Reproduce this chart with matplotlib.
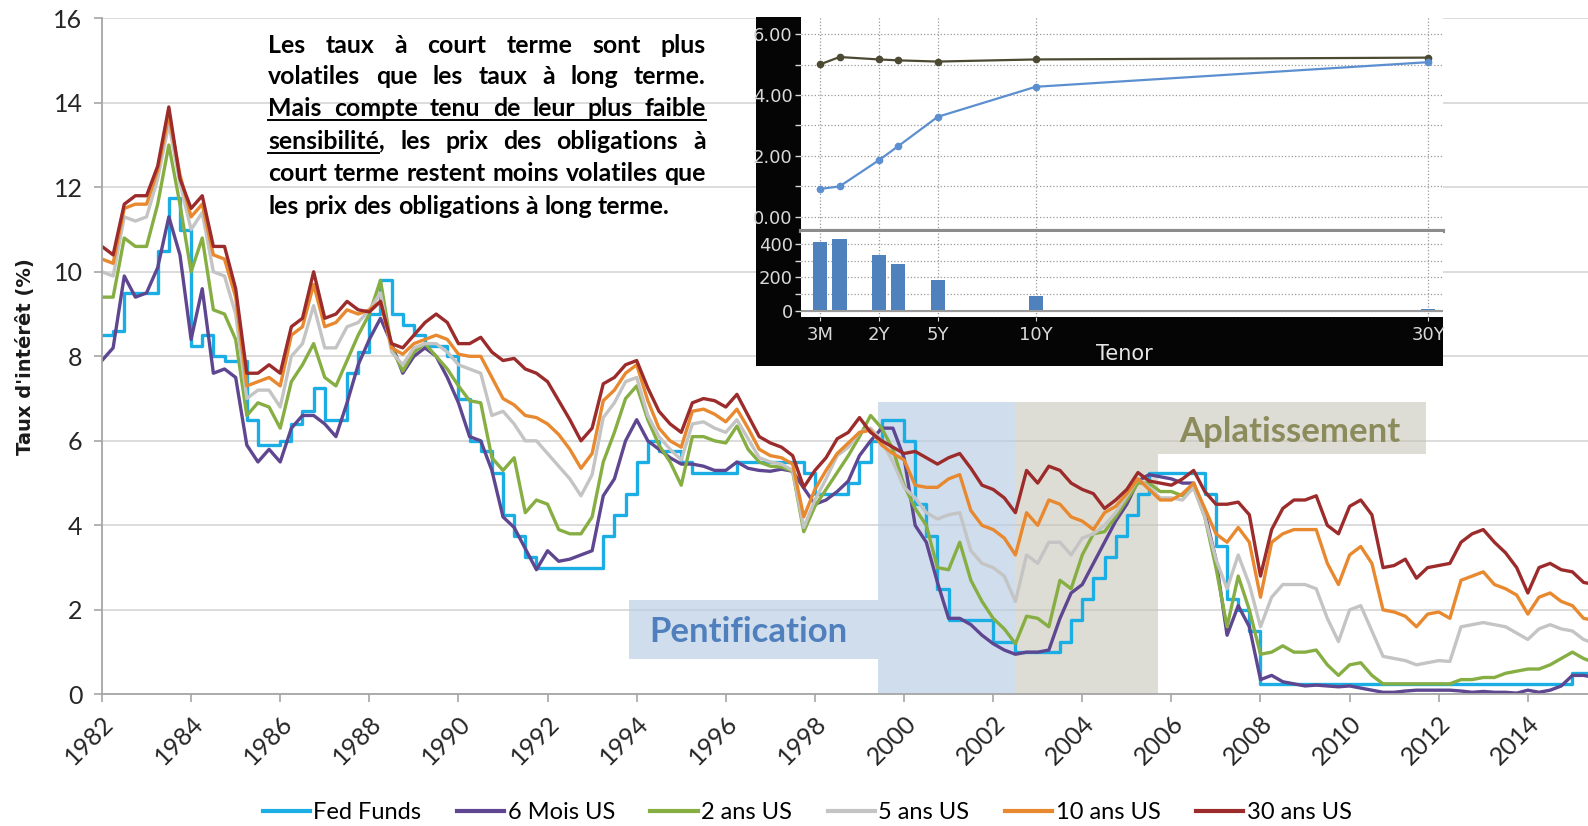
import numpy as np
import matplotlib
matplotlib.use("Agg")
import matplotlib.pyplot as plt
from matplotlib.patches import Rectangle
from matplotlib.lines import Line2D

# ---- data: quarterly readings (time axis as drawn) ----
dates = np.arange(1982.0, 2015.51, 0.25)

fed_funds = [
    8.5, 8.6, 9.5, 9.5,  9.5, 10.5, 11.75, 11.0,  8.25, 8.5, 8.0, 7.9,
    7.9, 6.5, 5.9, 5.9,  6.0, 6.4, 6.7, 7.25,  6.5, 6.5, 7.6, 8.1,
    9.0, 9.8, 9.0, 8.75,  8.5, 8.25, 8.25, 8.0,  7.0, 6.0, 5.75, 5.25,
    4.25, 3.75, 3.25, 3.0,  3.0, 3.0, 3.0, 3.0,  3.0, 3.75, 4.25, 4.75,
    5.5, 6.0, 5.75, 5.75,  5.5, 5.25, 5.25, 5.25,  5.25, 5.5, 5.5, 5.5,
    5.5, 5.5, 5.5, 5.25,  4.75, 4.75, 4.75, 5.0,  5.5, 6.0, 6.5, 6.5,
    6.0, 4.5, 3.75, 2.5,  1.75, 1.75, 1.75, 1.75,  1.25, 1.25, 1.0, 1.0,
    1.0, 1.0, 1.25, 1.75,  2.25, 2.75, 3.25, 3.75,  4.25, 4.75, 5.25, 5.25,
    5.25, 5.25, 5.25, 4.75,  3.5, 2.25, 2.0, 1.5,  0.25, 0.25, 0.25, 0.25,
    0.25, 0.25, 0.25, 0.25,  0.25, 0.25, 0.25, 0.25,  0.25, 0.25, 0.25, 0.25,
    0.25, 0.25, 0.25, 0.25,  0.25, 0.25, 0.25, 0.25,  0.25, 0.25, 0.25, 0.25,
    0.5, 0.5, 0.5,
]
us_6m = [
    7.9, 8.2, 9.9, 9.4,  9.5, 10.1, 11.3, 10.4,  8.4, 9.6, 7.6, 7.7,
    7.5, 5.9, 5.5, 5.8,  5.5, 6.3, 6.6, 6.6,  6.4, 6.1, 6.9, 7.8,
    8.4, 8.9, 8.3, 7.6,  8.0, 8.2, 8.0, 7.5,  6.9, 6.1, 6.0, 5.3,
    4.2, 3.95, 3.45, 2.95,  3.4, 3.15, 3.2, 3.3,  3.4, 4.7, 5.1, 6.0,
    6.5, 6.0, 5.8, 5.6,  5.45, 5.45, 5.4, 5.3,  5.3, 5.5, 5.35, 5.3,
    5.28, 5.33, 5.28, 4.88,  4.5, 4.6, 4.8, 5.05,  5.65, 6.0, 6.3, 6.3,
    5.6, 4.0, 3.6, 2.65,  1.8, 1.8, 1.65, 1.4,  1.2, 1.05, 0.95, 1.0,
    1.0, 1.05, 1.8, 2.4,  2.6, 3.1, 3.6, 4.1,  4.5, 5.05, 5.2, 5.15,
    5.1, 5.0, 5.0, 4.3,  3.2, 1.4, 2.1, 1.6,  0.35, 0.45, 0.3, 0.25,
    0.2, 0.22, 0.2, 0.18,  0.2, 0.15, 0.1, 0.05,  0.05, 0.08, 0.1, 0.1,
    0.1, 0.1, 0.08, 0.05,  0.07, 0.05, 0.05, 0.03,  0.1, 0.05, 0.1, 0.2,
    0.45, 0.45, 0.4,
]
us_2y = [
    9.4, 9.4, 10.8, 10.6,  10.6, 11.6, 13.0, 11.6,  10.0, 10.8, 9.1, 9.0,
    8.4, 6.6, 6.9, 6.8,  6.3, 7.4, 7.8, 8.3,  7.5, 7.3, 7.9, 8.5,
    9.0, 9.8, 8.2, 7.65,  8.1, 8.3, 8.0, 7.7,  7.3, 6.95, 6.9, 5.6,
    5.3, 5.6, 4.3, 4.6,  4.5, 3.9, 3.8, 3.8,  4.2, 5.5, 6.2, 7.0,
    7.3, 6.5, 5.9, 5.5,  4.95, 6.1, 6.1, 6.0,  5.95, 6.35, 5.8, 5.5,
    5.4, 5.38, 5.28, 3.85,  4.45, 4.85, 5.25, 5.65,  6.1, 6.6, 6.3, 5.8,
    4.95, 4.4, 4.0, 3.0,  2.95, 3.6, 2.7, 2.2,  1.8, 1.55, 1.2, 1.85,
    1.8, 1.6, 2.7, 2.5,  3.3, 3.8, 3.85, 4.2,  4.6, 5.0, 5.0, 4.8,
    4.8, 4.7, 4.9, 4.2,  3.0, 1.6, 2.8, 2.0,  0.95, 1.0, 1.15, 1.0,
    1.0, 1.05, 0.7, 0.45,  0.7, 0.75, 0.45, 0.25,  0.25, 0.25, 0.25, 0.25,
    0.25, 0.25, 0.35, 0.35,  0.4, 0.4, 0.5, 0.55,  0.6, 0.6, 0.7, 0.85,
    1.0, 0.85, 0.75,
]
us_5y = [
    10.0, 9.9, 11.3, 11.2,  11.3, 12.2, 13.5, 12.1,  11.0, 11.4, 10.0, 9.9,
    9.0, 7.0, 7.2, 7.2,  6.8, 8.0, 8.3, 9.2,  8.2, 8.2, 8.7, 8.8,
    9.1, 9.5, 8.1, 7.8,  8.2, 8.3, 8.3, 8.1,  7.8, 7.7, 7.6, 6.6,
    6.7, 6.4, 6.0, 6.0,  5.7, 5.4, 5.1, 4.7,  5.2, 6.55, 6.9, 7.4,
    7.5, 6.6, 6.1, 5.8,  5.55, 6.4, 6.45, 6.3,  6.2, 6.5, 6.05, 5.6,
    5.5, 5.45, 5.3, 3.95,  4.6, 5.1, 5.65, 5.85,  6.2, 6.3, 6.0, 5.5,
    4.9, 4.65, 4.3, 4.15,  4.25, 4.3, 3.4, 3.1,  3.0, 2.8, 2.2, 3.3,
    3.1, 3.6, 3.6, 3.3,  3.7, 3.8, 4.0, 4.3,  4.7, 5.1, 4.9, 4.65,
    4.65, 4.6, 4.9, 4.2,  3.2, 2.5, 3.3, 2.6,  1.6, 2.3, 2.6, 2.6,
    2.6, 2.5, 1.8, 1.25,  2.0, 2.1, 1.5, 0.9,  0.85, 0.8, 0.7, 0.75,
    0.8, 0.78, 1.6, 1.65,  1.7, 1.65, 1.6, 1.45,  1.3, 1.55, 1.65, 1.55,
    1.5, 1.3, 1.2,
]
us_10y = [
    10.3, 10.2, 11.5, 11.6,  11.6, 12.4, 13.7, 12.3,  11.3, 11.6, 10.4, 10.3,
    9.4, 7.3, 7.4, 7.5,  7.3, 8.5, 8.7, 9.7,  8.7, 8.8, 9.1, 9.0,
    9.1, 9.3, 8.2, 8.05,  8.3, 8.4, 8.5, 8.4,  8.05, 8.0, 8.0, 7.5,
    7.0, 6.85, 6.6, 6.55,  6.4, 6.15, 5.8, 5.35,  5.7, 6.95, 7.2, 7.6,
    7.8, 6.95, 6.3, 6.0,  5.85, 6.7, 6.75, 6.63,  6.45, 6.75, 6.3, 5.8,
    5.65, 5.6, 5.45, 4.2,  4.85, 5.3, 5.7, 5.95,  6.2, 6.25, 5.9, 5.7,
    5.55, 4.95, 4.9, 4.9,  5.1, 5.2, 4.35, 4.0,  3.9, 3.7, 3.3, 4.3,
    4.0, 4.6, 4.5, 4.2,  4.1, 3.9, 4.3, 4.45,  4.75, 5.1, 4.85, 4.6,
    4.6, 4.75, 5.0, 4.4,  3.8, 3.6, 3.95, 3.6,  2.3, 3.6, 3.8, 3.9,
    3.9, 3.9, 3.1, 2.6,  3.3, 3.5, 3.1, 2.0,  1.95, 1.85, 1.6, 1.9,
    1.95, 1.8, 2.7, 2.8,  2.9, 2.6, 2.5, 2.35,  1.9, 2.3, 2.4, 2.2,
    2.1, 1.8, 1.75,
]
us_30y = [
    10.6, 10.4, 11.6, 11.8,  11.8, 12.5, 13.9, 12.2,  11.5, 11.8, 10.6, 10.6,
    9.6, 7.6, 7.6, 7.8,  7.6, 8.7, 8.9, 10.0,  8.9, 9.0, 9.3, 9.1,
    9.05, 9.3, 8.3, 8.2,  8.5, 8.8, 9.0, 8.8,  8.3, 8.3, 8.45, 8.1,
    7.9, 7.95, 7.7, 7.6,  7.4, 6.95, 6.5, 6.0,  6.3, 7.35, 7.5, 7.8,
    7.9, 7.25, 6.7, 6.4,  6.2, 6.9, 7.0, 6.95,  6.8, 7.1, 6.6, 6.1,
    5.95, 5.85, 5.65, 4.9,  5.3, 5.6, 6.05, 6.2,  6.55, 6.2, 6.0, 5.85,
    5.7, 5.75, 5.6, 5.45,  5.6, 5.7, 5.35, 4.95,  4.85, 4.65, 4.3, 5.3,
    5.0, 5.4, 5.3, 5.0,  4.85, 4.75, 4.4, 4.6,  4.85, 5.25, 5.05, 5.0,
    4.95, 5.1, 5.3, 4.8,  4.5, 4.5, 4.55, 4.25,  2.8, 3.9, 4.4, 4.6,
    4.6, 4.7, 4.0, 3.8,  4.45, 4.6, 4.25, 3.0,  3.05, 3.2, 2.75, 3.0,
    3.05, 3.1, 3.6, 3.8,  3.9, 3.6, 3.35, 3.0,  2.4, 3.0, 3.1, 2.95,
    2.9, 2.65, 2.6,
]

series = [fed_funds, us_6m, us_2y, us_5y, us_10y, us_30y]
series_names = ["Fed Funds", "6 Mois US", "2 ans US", "5 ans US", "10 ans US", "30 ans US"]
series_colors = ["#1aaee5", "#5e4690", "#86ae43", "#c4c4c4", "#e8892f", "#9c2b2b"]

year_ticks = list(range(1982, 2015, 2))

# inset: yield curve before / after and spread in bp
tenor_years = [0.25, 0.5, 2, 3, 5, 10, 30]
tenor_tick_years = [0.25, 2, 5, 10, 30]
tenor_tick_labels = ["3M", "2Y", "5Y", "10Y", "30Y"]
curve_flat = [5.01, 5.25, 5.17, 5.14, 5.10, 5.17, 5.23]
curve_steep = [0.91, 0.99, 1.85, 2.32, 3.28, 4.27, 5.08]
spread_bp = [414, 428, 335, 281, 186, 87, 10]

paragraph = [
    "Les taux à court terme sont plus",
    "volatiles que les taux à long terme.",
    "Mais compte tenu de leur plus faible",
    "sensibilité, les prix des obligations à",
    "court terme restent moins volatiles que",
    "les prix des obligations à long terme.",
]

# ---- layout helpers (reference measured on a 1568x816 copy) ----
W_REF, H_REF = 1568.0, 816.0
def fx(x):
    return x / W_REF
def fy(y):
    return 1 - y / H_REF

FONT = ["Lato", "DejaVu Sans"]
NARROW = ["Liberation Sans Narrow", "DejaVu Sans"]

fig = plt.figure(figsize=(15.88, 8.26), dpi=100)
ax = fig.add_axes([fx(100.7), fy(686), 1 - fx(100.7), fy(18) - fy(686)])

for vals, col in zip(series, series_colors):
    if col == series_colors[0]:
        ax.plot(dates, vals, color=col, lw=2.4, drawstyle="steps-post", zorder=2)
    else:
        ax.plot(dates, vals, color=col, lw=2.4, zorder=2)

# shaded regimes
ax.add_patch(Rectangle((1999.42, 0), 2002.49 - 1999.42, 6.92,
                       facecolor="#b8cce4", alpha=0.65, lw=0, zorder=1))
ax.add_patch(Rectangle((1993.83, 0.84), 1999.42 - 1993.83, 2.23 - 0.84,
                       facecolor="#b8cce4", alpha=0.65, lw=0, zorder=1))
ax.add_patch(Rectangle((2002.49, 0), 2005.69 - 2002.49, 6.92,
                       facecolor="#c4c1b4", alpha=0.55, lw=0, zorder=1))
ax.add_patch(Rectangle((2005.69, 5.70), 2011.71 - 2005.69, 6.92 - 5.70,
                       facecolor="#c4c1b4", alpha=0.55, lw=0, zorder=1))
ax.text(1996.5, 1.47, "Pentification", color="#4f7fbc", fontsize=25,
        fontweight="bold", family=FONT, ha="center", va="center", zorder=3)
ax.text(2008.65, 6.2, "Aplatissement", color="#8c8b5c", fontsize=25,
        fontweight="bold", family=FONT, ha="center", va="center", zorder=3)

ax.set_xlim(1982, 2015.35)
ax.set_ylim(0, 16)
ax.set_yticks(range(0, 17, 2))
ax.set_xticks(year_ticks)
ax.set_xticklabels([str(y) for y in year_ticks], rotation=45, ha="right",
                   va="top", rotation_mode="anchor")
ax.tick_params(axis="both", labelsize=18, colors="#a6a6a6", labelcolor="#262626",
               length=6, width=1.2)
ax.tick_params(axis="x", pad=6)
ax.tick_params(axis="y", pad=8)
for lab in ax.get_xticklabels() + ax.get_yticklabels():
    lab.set_family(FONT)
ax.yaxis.grid(True, color="#d9d9d9", lw=1.3)
ax.set_axisbelow(True)
for s in ["top", "right"]:
    ax.spines[s].set_visible(False)
for s in ["left", "bottom"]:
    ax.spines[s].set_color("#a6a6a6")
    ax.spines[s].set_linewidth(1.3)

fig.text(fx(25), fy(352), "Taux d'intérêt (%)", rotation=90, ha="center",
         va="center", fontsize=14, fontweight="bold", family="DejaVu Sans",
         color="#1a1a1a")

handles = [Line2D([], [], color=c, lw=3) for c in series_colors]
fig.legend(handles, series_names, loc="center", bbox_to_anchor=(fx(797), fy(803)),
           ncol=6, frameon=False, prop={"family": FONT, "size": 17},
           handlelength=2.0, handletextpad=0.15, columnspacing=1.5)

# ---- justified paragraph ----
renderer = fig.canvas.get_renderer()
fig_w = fig.get_figwidth() * fig.dpi
left_px = fx(265) * fig_w
right_px = fx(697) * fig_w
span = right_px - left_px

def text_width(s, size):
    t = fig.text(0, 0, s, fontsize=size, fontweight="bold", family=FONT)
    w = t.get_window_extent(renderer).width
    t.remove()
    return w

para_size = 10 * span / text_width(paragraph[4], 10)
baselines = [52, 83, 115, 147, 179, 211]
for i, (line, yb) in enumerate(zip(paragraph, baselines)):
    words = line.split()
    widths = [text_width(w, para_size) for w in words]
    if i < len(paragraph) - 1:
        gap = (span - sum(widths)) / (len(words) - 1)
    else:
        gap = text_width("a b", para_size) - text_width("ab", para_size)
    x = left_px
    for w, wd in zip(words, widths):
        fig.text(x / fig_w, fy(yb), w, fontsize=para_size, fontweight="bold",
                 family=FONT, ha="left", va="baseline", color="black")
        x += wd + gap
    yu = fy(yb + 4)
    if i == 2:
        fig.add_artist(Line2D([left_px / fig_w, right_px / fig_w], [yu, yu],
                              color="black", lw=1.4))
    if i == 3:
        wu = text_width("sensibilité", para_size)
        fig.add_artist(Line2D([left_px / fig_w, (left_px + wu) / fig_w], [yu, yu],
                              color="black", lw=1.4))

# ---- inset (yield curve panel) ----
fig.patches.append(Rectangle((fx(746.5), fy(362)), fx(1425) - fx(746.5),
                             fy(17) - fy(362), transform=fig.transFigure,
                             facecolor="#050505", edgecolor="none", zorder=1))

t_knots = [-1.0, 0.25, 0.5, 2.0, 100.0]
p_knots = [-6.0, -0.98, 0.0, 2.0, 100.0]
def fwd(t):
    return np.interp(t, t_knots, p_knots)
def inv(p):
    return np.interp(p, p_knots, t_knots)

ax_c = fig.add_axes([fx(791), fy(228), fx(1425) - fx(791), fy(17) - fy(228)])
ax_b = fig.add_axes([fx(791), fy(313.5), fx(1425) - fx(791), fy(229) - fy(313.5)])
for a in (ax_c, ax_b):
    a.set_zorder(3)
    a.set_facecolor("white")
    a.set_xscale("function", functions=(fwd, inv))
    a.set_xlim(inv(-1.96), inv(30.77))
    a.set_xticks(tenor_tick_years)
    a.xaxis.grid(True, color="#9a9a9a", ls=":", lw=0.9)
    a.yaxis.grid(True, which="both", color="#9a9a9a", ls=":", lw=0.9)
    for s in a.spines.values():
        s.set_visible(False)
    a.tick_params(axis="y", which="both", colors="#d9d9d9", length=4, width=1,
                  labelsize=13, pad=2)
    a.set_axisbelow(True)

ax_c.plot(tenor_years, curve_flat, color="#4d4a33", lw=1.6, marker="o", ms=4.5)
ax_c.plot(tenor_years, curve_steep, color="#5b8fd0", lw=1.6, marker="o", ms=4.5)
ax_c.set_ylim(-0.47, 6.56)
ax_c.set_yticks([0, 2, 4, 6])
ax_c.set_yticklabels(["0.00", "2.00", "4.00", "6.00"], family=NARROW)
ax_c.set_yticks([1, 3, 5], minor=True)
ax_c.tick_params(axis="x", length=0, labelbottom=False)
ax_c.spines["bottom"].set_visible(True)
ax_c.spines["bottom"].set_color("#8c8c8c")
ax_c.spines["bottom"].set_linewidth(3)

bar_left = [inv(fwd(t) - 0.36) for t in tenor_years]
bar_right = [inv(fwd(t) + 0.36) for t in tenor_years]
ax_b.bar(bar_left, spread_bp, width=np.subtract(bar_right, bar_left),
         align="edge", color="#4f81bd", zorder=2)
ax_b.axhline(0, color="#9a9a9a", lw=1.5, zorder=3)
ax_b.set_ylim(-40, 473)
ax_b.set_yticks([0, 200, 400])
ax_b.set_yticklabels(["0", "200", "400"], family=NARROW)
ax_b.set_yticks([100, 300], minor=True)
ax_b.set_xticklabels(tenor_tick_labels, family=NARROW)
ax_b.tick_params(axis="x", colors="#d9d9d9", length=3, labelsize=13, pad=3)

fig.text(fx(1110), fy(350), "Tenor", color="#e6e6e6", fontsize=15,
         family=NARROW, ha="center", va="center", zorder=4)

fig.savefig("out.png", dpi=100)
